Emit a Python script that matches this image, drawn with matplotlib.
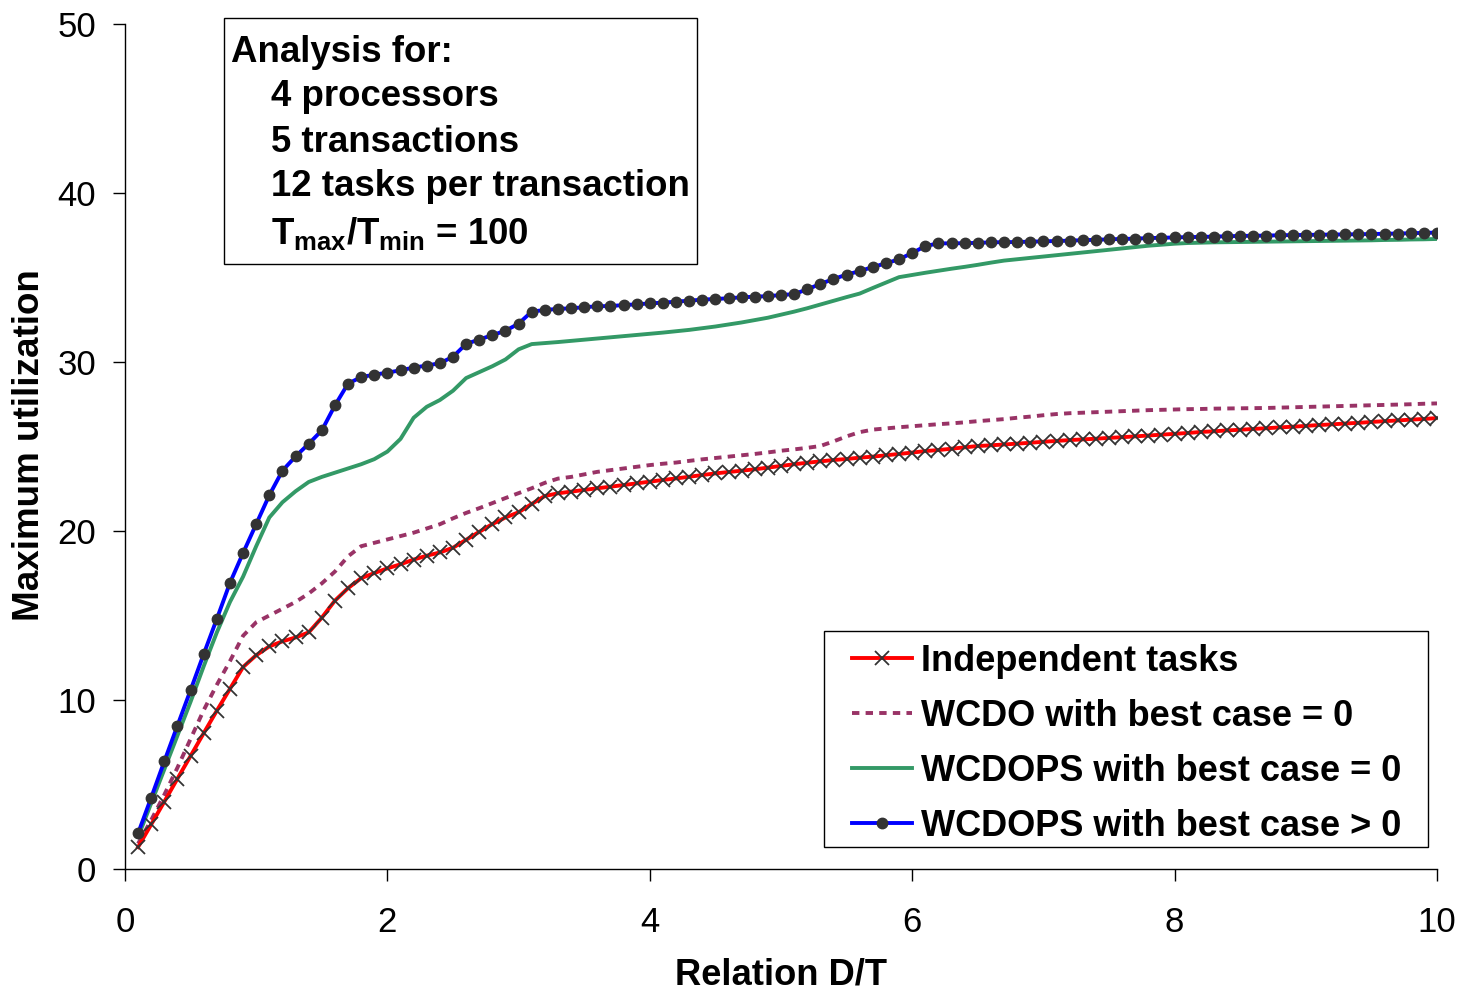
import numpy as np
import matplotlib
matplotlib.use("Agg")
import matplotlib.pyplot as plt
from matplotlib.patches import Rectangle

plt.rcParams['font.family'] = ['Liberation Sans', 'DejaVu Sans']
plt.rcParams['mathtext.fontset'] = 'custom'
plt.rcParams['mathtext.rm'] = 'Liberation Sans:bold'
plt.rcParams['mathtext.bf'] = 'Liberation Sans:bold'
plt.rcParams['mathtext.it'] = 'Liberation Sans:bold'

# ---------------- data ----------------
x_values = [round(0.1 * i, 1) for i in range(1, 101)]

independent = [
    1.30, 2.64, 3.99, 5.35, 6.69, 8.04, 9.37, 10.66, 11.95, 12.65,
    13.17, 13.47, 13.70, 14.00, 14.87, 15.88, 16.62, 17.21, 17.51, 17.79,
    18.03, 18.31, 18.54, 18.73, 19.01, 19.48, 19.95, 20.41, 20.80, 21.11,
    21.60, 22.07, 22.23, 22.33, 22.43, 22.53, 22.62, 22.72, 22.82, 22.92,
    23.02, 23.11, 23.21, 23.31, 23.41, 23.49, 23.57, 23.65, 23.75, 23.85,
    23.95, 24.04, 24.12, 24.20, 24.26, 24.34, 24.40, 24.48, 24.56, 24.64,
    24.73, 24.79, 24.87, 24.95, 25.03, 25.07, 25.12, 25.17, 25.22, 25.28,
    25.33, 25.38, 25.42, 25.46, 25.51, 25.55, 25.60, 25.65, 25.70, 25.75,
    25.80, 25.86, 25.90, 25.95, 25.99, 26.04, 26.08, 26.13, 26.17, 26.22,
    26.27, 26.31, 26.36, 26.40, 26.45, 26.50, 26.54, 26.59, 26.63, 26.68,
]

wcdo_bc0 = [
    1.50, 2.90, 4.40, 6.00, 7.70, 9.40, 10.90, 12.30, 13.80, 14.60,
    15.00, 15.40, 15.80, 16.30, 16.90, 17.60, 18.50, 19.10, 19.30, 19.50,
    19.70, 19.90, 20.15, 20.40, 20.75, 21.07, 21.35, 21.65, 21.95, 22.24,
    22.53, 22.85, 23.10, 23.20, 23.35, 23.50, 23.60, 23.70, 23.80, 23.90,
    23.98, 24.05, 24.15, 24.24, 24.32, 24.40, 24.48, 24.56, 24.65, 24.75,
    24.83, 24.92, 25.03, 25.30, 25.60, 25.85, 26.00, 26.07, 26.14, 26.20,
    26.26, 26.32, 26.37, 26.43, 26.50, 26.56, 26.62, 26.70, 26.77, 26.85,
    26.92, 26.97, 27.00, 27.03, 27.06, 27.09, 27.12, 27.15, 27.17, 27.19,
    27.21, 27.22, 27.24, 27.25, 27.26, 27.27, 27.28, 27.30, 27.32, 27.34,
    27.36, 27.38, 27.40, 27.42, 27.44, 27.46, 27.48, 27.50, 27.53, 27.55,
]

wcdops_bc0 = [
    1.90, 3.90, 5.90, 7.90, 9.90, 12.00, 14.00, 15.80, 17.30, 19.10,
    20.80, 21.70, 22.35, 22.90, 23.20, 23.45, 23.70, 23.95, 24.25, 24.70,
    25.45, 26.70, 27.35, 27.75, 28.30, 29.05, 29.40, 29.75, 30.15, 30.75,
    31.06, 31.12, 31.18, 31.25, 31.32, 31.39, 31.46, 31.53, 31.60, 31.67,
    31.74, 31.82, 31.90, 32.00, 32.10, 32.22, 32.34, 32.48, 32.62, 32.80,
    32.98, 33.18, 33.40, 33.62, 33.84, 34.05, 34.38, 34.70, 35.02, 35.15,
    35.28, 35.40, 35.52, 35.63, 35.75, 35.88, 36.00, 36.08, 36.16, 36.24,
    36.32, 36.40, 36.48, 36.56, 36.64, 36.72, 36.80, 36.88, 36.94, 37.00,
    37.04, 37.06, 37.08, 37.09, 37.10, 37.11, 37.12, 37.13, 37.14, 37.15,
    37.16, 37.17, 37.18, 37.19, 37.20, 37.22, 37.23, 37.25, 37.26, 37.28,
]

wcdops_bcpos = [
    2.12, 4.23, 6.38, 8.49, 10.59, 12.72, 14.80, 16.93, 18.70, 20.41,
    22.12, 23.57, 24.41, 25.16, 25.95, 27.43, 28.72, 29.11, 29.25, 29.37,
    29.51, 29.67, 29.79, 29.93, 30.31, 31.07, 31.33, 31.59, 31.85, 32.27,
    32.98, 33.08, 33.14, 33.18, 33.24, 33.30, 33.31, 33.37, 33.41, 33.47,
    33.51, 33.57, 33.63, 33.69, 33.73, 33.77, 33.83, 33.86, 33.90, 33.96,
    34.02, 34.30, 34.62, 34.91, 35.17, 35.38, 35.62, 35.84, 36.08, 36.45,
    36.86, 37.02, 37.02, 37.03, 37.05, 37.08, 37.09, 37.10, 37.12, 37.14,
    37.16, 37.18, 37.21, 37.23, 37.26, 37.28, 37.30, 37.33, 37.35, 37.37,
    37.39, 37.40, 37.42, 37.44, 37.46, 37.47, 37.48, 37.50, 37.51, 37.52,
    37.53, 37.54, 37.55, 37.56, 37.57, 37.59, 37.60, 37.62, 37.64, 37.66,
]

series_labels = [
    "Independent tasks",
    "WCDO with best case = 0",
    "WCDOPS with best case = 0",
    "WCDOPS with best case > 0",
]
x_ticks = [0, 2, 4, 6, 8, 10]
y_ticks = [0, 10, 20, 30, 40, 50]
info_lines = [
    "Analysis for:",
    "4 processors",
    "5 transactions",
    "12 tasks per transaction",
    r"T$_{\mathrm{max}}$/T$_{\mathrm{min}}$ = 100",
]

# ---------------- figure ----------------
W, H = 1461, 993
fig = plt.figure(figsize=(W / 100, H / 100), dpi=100)
ax = fig.add_axes([125 / W, 1 - 869 / H, (1437 - 125) / W, (869 - 24) / H])

LW = 2.8
ax.plot(x_values, independent, color='#FF0000', lw=LW, marker='x',
        ms=10, mec='#333333', mew=1.3, label=series_labels[0], zorder=3)
ax.plot(x_values, wcdo_bc0, color='#993366', lw=LW, ls=(0, (1.9, 1.6)),
        label=series_labels[1], zorder=2)
ax.plot(x_values, wcdops_bc0, color='#339966', lw=LW,
        label=series_labels[2], zorder=2)
ax.plot(x_values, wcdops_bcpos, color='#0000FF', lw=LW, marker='o',
        ms=7.5, mfc='#333333', mec='#333333', label=series_labels[3], zorder=4)

ax.set_xlim(0, 10)
ax.set_ylim(0, 50)
ax.set_xticks(x_ticks)
ax.set_yticks(y_ticks)
ax.set_xticklabels([str(v) for v in x_ticks])
ax.set_yticklabels([str(v) for v in y_ticks])
for s in ['top', 'right']:
    ax.spines[s].set_visible(False)
for s in ['left', 'bottom']:
    ax.spines[s].set_linewidth(1.0)
    ax.spines[s].set_color('black')
ax.tick_params(axis='both', direction='out', length=8.5, width=1.0,
               labelsize=25, colors='black')
ax.tick_params(axis='x', pad=18.5)
ax.tick_params(axis='y', pad=12.3)
ax.patch.set_alpha(0)

fig.text(781 / W, 1 - 975 / H, "Relation D/T", ha='center', va='center',
         fontsize=26.2, fontweight='bold')
fig.text(30 / W, 1 - 445 / H, "Maximum utilization", ha='center', va='center',
         fontsize=26.5, fontweight='bold', rotation=90)

# info box
fig.patches.append(Rectangle((224 / W, 1 - 264 / H), (697 - 224) / W, (264 - 18) / H,
                             transform=fig.transFigure, fill=False,
                             edgecolor='black', lw=1.0))
line_y = [52, 97, 142, 187, 233]
line_x = [231, 271, 271, 271, 271]
for t, xx, yy in zip(info_lines, line_x, line_y):
    fig.text(xx / W, 1 - yy / H, t, ha='left', va='center',
             fontsize=26.4, fontweight='bold')

# legend frame drawn separately, legend content placed inside
fig.patches.append(Rectangle((824 / W, 1 - 847 / H), (1428 - 824) / W, (847 - 631) / H,
                             transform=fig.transFigure, fill=False,
                             edgecolor='black', lw=1.0))
leg = ax.legend(loc='upper left', bbox_to_anchor=(852 / W, 1 - 644 / H),
                bbox_transform=fig.transFigure, borderaxespad=0, borderpad=0,
                frameon=False, prop={'weight': 'bold', 'size': 26}, numpoints=1,
                handlelength=1.66, handletextpad=0.25, labelspacing=0.55)

fig.savefig("out.png", dpi=100)
